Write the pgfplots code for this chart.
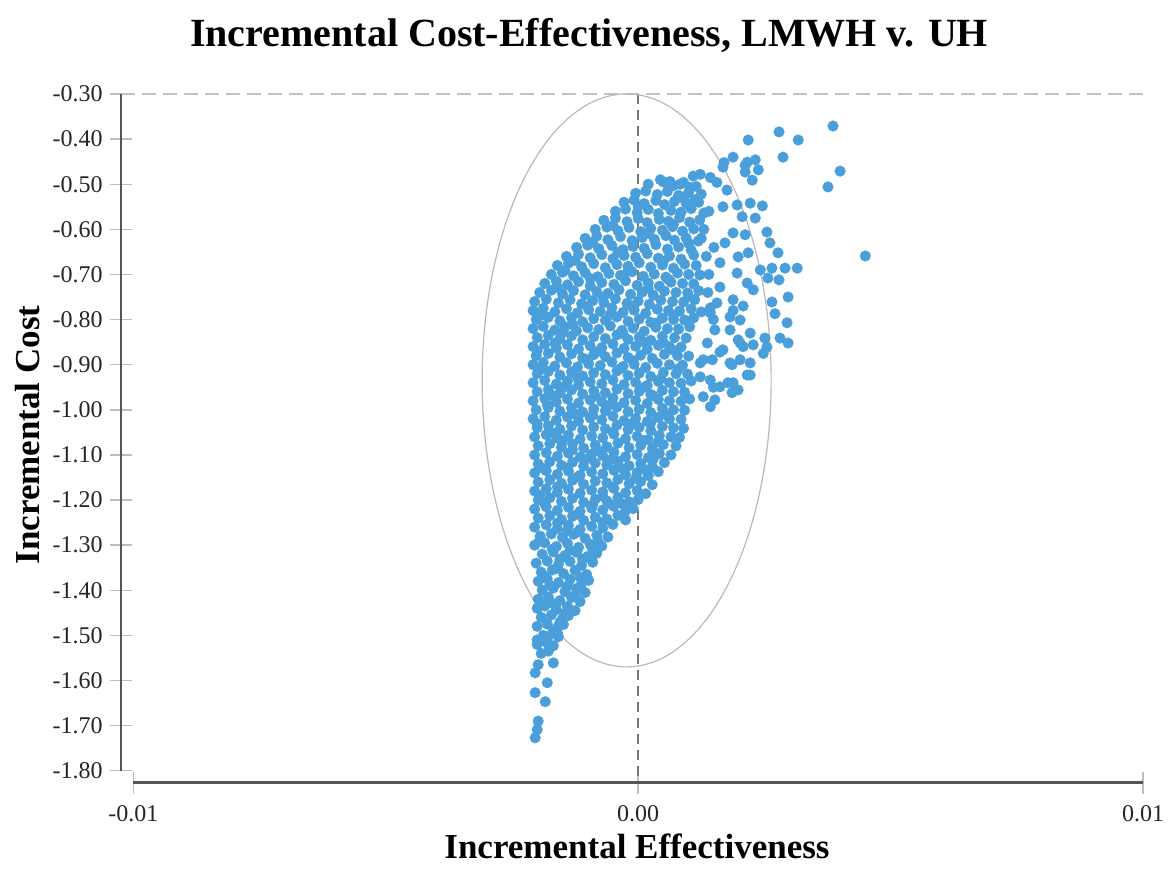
\documentclass[border=0pt]{standalone}
\usepackage{fontspec}
\setmainfont{Liberation Serif}
\usepackage{pgfplots}
\pgfplotsset{compat=1.18}
\usepackage{pgfplotstable}
\definecolor{ptblue}{RGB}{74,159,218}
\definecolor{spinecol}{RGB}{85,85,85}
\definecolor{tickgray}{RGB}{190,190,190}
\definecolor{ellgray}{RGB}{185,185,185}
\definecolor{dashdark}{RGB}{120,120,120}
\definecolor{dashlight}{RGB}{195,195,195}

\pgfplotstableread{
x y
0.44e-3 -0.490
0.63e-3 -0.494
0.83e-3 -0.500
1.03e-3 -0.507
1.09e-3 -0.482
1.23e-3 -0.478
1.43e-3 -0.485
1.56e-3 -0.496
1.68e-3 -0.462
1.88e-3 -0.440
2.12e-3 -0.473
1.76e-3 -0.513
1.70e-3 -0.452
2.12e-3 -0.458
2.32e-3 -0.446
2.38e-3 -0.468
2.26e-3 -0.491
2.18e-3 -0.402
2.79e-3 -0.384
3.17e-3 -0.402
3.86e-3 -0.371
2.87e-3 -0.440
4.00e-3 -0.471
3.76e-3 -0.506
4.50e-3 -0.659
2.16e-3 -0.451
1.68e-3 -0.550
1.96e-3 -0.546
2.22e-3 -0.542
2.46e-3 -0.548
2.06e-3 -0.572
2.32e-3 -0.575
2.55e-3 -0.606
2.61e-3 -0.630
2.77e-3 -0.652
1.88e-3 -0.608
2.12e-3 -0.612
1.72e-3 -0.630
1.98e-3 -0.661
2.18e-3 -0.652
1.62e-3 -0.674
1.96e-3 -0.697
2.42e-3 -0.690
2.65e-3 -0.686
2.91e-3 -0.686
3.15e-3 -0.686
2.16e-3 -0.719
2.28e-3 -0.734
2.65e-3 -0.761
2.97e-3 -0.750
1.88e-3 -0.756
1.62e-3 -0.728
1.43e-3 -0.774
2.57e-3 -0.708
2.79e-3 -0.712
1.56e-3 -0.763
1.49e-3 -0.800
1.82e-3 -0.794
2.02e-3 -0.801
2.22e-3 -0.830
2.51e-3 -0.841
2.81e-3 -0.841
2.97e-3 -0.852
2.55e-3 -0.861
2.28e-3 -0.856
2.02e-3 -0.852
1.82e-3 -0.823
1.62e-3 -0.872
2.22e-3 -0.896
2.02e-3 -0.889
1.86e-3 -0.900
2.16e-3 -0.923
1.88e-3 -0.940
1.43e-3 -0.934
1.23e-3 -0.896
1.37e-3 -0.852
1.43e-3 -0.785
1.88e-3 -0.780
2.08e-3 -0.770
2.71e-3 -0.787
2.95e-3 -0.807
1.52e-3 -0.823
1.98e-3 -0.845
2.48e-3 -0.875
1.68e-3 -0.867
2.08e-3 -0.860
1.29e-3 -0.889
1.47e-3 -0.889
1.82e-3 -0.896
2.22e-3 -0.923
1.23e-3 -0.927
1.49e-3 -0.950
1.62e-3 -0.949
1.86e-3 -0.962
1.98e-3 -0.956
1.29e-3 -0.971
1.52e-3 -0.978
1.43e-3 -0.993
1.78e-3 -0.940
1.30e-3 -0.600
1.50e-3 -0.640
1.40e-3 -0.700
1.35e-3 -0.660
1.38e-3 -0.740
1.20e-3 -0.540
1.40e-3 -0.560
1.25e-3 -0.620
-1.98e-3 -1.565
-1.68e-3 -1.561
-2.04e-3 -1.583
-1.80e-3 -1.605
-2.04e-3 -1.627
-1.84e-3 -1.647
-1.98e-3 -1.690
-2.00e-3 -1.709
-2.04e-3 -1.727
-1.74e-3 -1.525
-1.60e-3 -1.494
-2.00e-3 -1.510
0.20e-3 -0.500
0.50e-3 -0.495
0.70e-3 -0.503
0.90e-3 -0.496
1.15e-3 -0.505
-0.05e-3 -0.520
0.15e-3 -0.515
0.38e-3 -0.523
0.58e-3 -0.516
0.80e-3 -0.525
1.00e-3 -0.518
1.25e-3 -0.522
-0.28e-3 -0.540
-0.08e-3 -0.535
0.12e-3 -0.543
0.35e-3 -0.536
0.52e-3 -0.545
0.72e-3 -0.538
0.95e-3 -0.542
1.12e-3 -0.534
-0.45e-3 -0.560
-0.25e-3 -0.555
-0.02e-3 -0.563
0.20e-3 -0.556
0.40e-3 -0.565
0.65e-3 -0.558
0.85e-3 -0.562
1.05e-3 -0.554
1.30e-3 -0.564
-0.68e-3 -0.580
-0.45e-3 -0.575
-0.22e-3 -0.583
0.00e-3 -0.576
0.18e-3 -0.585
0.42e-3 -0.578
0.60e-3 -0.582
0.82e-3 -0.574
1.02e-3 -0.584
1.22e-3 -0.579
-0.85e-3 -0.600
-0.62e-3 -0.595
-0.40e-3 -0.603
-0.18e-3 -0.596
0.05e-3 -0.605
0.25e-3 -0.598
0.48e-3 -0.602
0.68e-3 -0.594
0.88e-3 -0.604
1.10e-3 -0.599
-1.05e-3 -0.620
-0.82e-3 -0.615
-0.60e-3 -0.623
-0.35e-3 -0.616
-0.12e-3 -0.625
0.08e-3 -0.618
0.32e-3 -0.622
0.55e-3 -0.614
0.72e-3 -0.624
0.95e-3 -0.619
1.19e-3 -0.626
-1.22e-3 -0.640
-1.00e-3 -0.635
-0.78e-3 -0.643
-0.52e-3 -0.636
-0.30e-3 -0.645
-0.10e-3 -0.638
0.12e-3 -0.642
0.35e-3 -0.634
0.58e-3 -0.644
0.80e-3 -0.639
1.05e-3 -0.646
-1.42e-3 -0.660
-1.18e-3 -0.655
-0.95e-3 -0.663
-0.72e-3 -0.656
-0.50e-3 -0.665
-0.28e-3 -0.658
-0.05e-3 -0.662
0.18e-3 -0.654
0.40e-3 -0.664
0.62e-3 -0.659
0.85e-3 -0.666
1.10e-3 -0.657
-1.60e-3 -0.680
-1.38e-3 -0.675
-1.12e-3 -0.683
-0.88e-3 -0.676
-0.65e-3 -0.685
-0.42e-3 -0.678
-0.20e-3 -0.682
0.02e-3 -0.674
0.25e-3 -0.684
0.48e-3 -0.679
0.70e-3 -0.686
0.92e-3 -0.677
1.15e-3 -0.680
-1.72e-3 -0.700
-1.50e-3 -0.695
-1.28e-3 -0.703
-1.05e-3 -0.696
-0.80e-3 -0.705
-0.58e-3 -0.698
-0.35e-3 -0.702
-0.12e-3 -0.694
0.10e-3 -0.704
0.32e-3 -0.699
0.55e-3 -0.706
0.78e-3 -0.697
1.00e-3 -0.700
1.22e-3 -0.701
-1.85e-3 -0.720
-1.62e-3 -0.715
-1.40e-3 -0.723
-1.18e-3 -0.716
-0.95e-3 -0.725
-0.72e-3 -0.718
-0.48e-3 -0.722
-0.25e-3 -0.714
-0.02e-3 -0.724
0.20e-3 -0.719
0.42e-3 -0.726
0.65e-3 -0.717
0.88e-3 -0.720
1.10e-3 -0.721
-1.95e-3 -0.740
-1.72e-3 -0.735
-1.50e-3 -0.743
-1.28e-3 -0.736
-1.05e-3 -0.745
-0.82e-3 -0.738
-0.60e-3 -0.742
-0.38e-3 -0.734
-0.15e-3 -0.744
0.08e-3 -0.739
0.30e-3 -0.746
0.52e-3 -0.737
0.75e-3 -0.740
0.98e-3 -0.741
1.20e-3 -0.736
-2.05e-3 -0.760
-1.82e-3 -0.755
-1.58e-3 -0.763
-1.35e-3 -0.756
-1.12e-3 -0.765
-0.90e-3 -0.758
-0.68e-3 -0.762
-0.45e-3 -0.754
-0.22e-3 -0.764
0.00e-3 -0.759
0.22e-3 -0.766
0.45e-3 -0.757
0.68e-3 -0.760
0.90e-3 -0.761
1.12e-3 -0.756
-2.08e-3 -0.780
-1.88e-3 -0.775
-1.65e-3 -0.783
-1.42e-3 -0.776
-1.20e-3 -0.785
-0.98e-3 -0.778
-0.75e-3 -0.782
-0.52e-3 -0.774
-0.30e-3 -0.784
-0.08e-3 -0.779
0.15e-3 -0.786
0.38e-3 -0.777
0.60e-3 -0.780
0.82e-3 -0.781
1.05e-3 -0.776
1.25e-3 -0.783
-2.02e-3 -0.800
-1.78e-3 -0.795
-1.55e-3 -0.803
-1.32e-3 -0.796
-1.10e-3 -0.805
-0.88e-3 -0.798
-0.65e-3 -0.802
-0.42e-3 -0.794
-0.20e-3 -0.804
0.02e-3 -0.799
0.25e-3 -0.806
0.48e-3 -0.797
0.70e-3 -0.800
0.92e-3 -0.801
1.10e-3 -0.796
-2.08e-3 -0.820
-1.88e-3 -0.815
-1.65e-3 -0.823
-1.45e-3 -0.816
-1.22e-3 -0.825
-1.00e-3 -0.818
-0.78e-3 -0.822
-0.55e-3 -0.814
-0.32e-3 -0.824
-0.10e-3 -0.819
0.12e-3 -0.826
0.35e-3 -0.817
0.58e-3 -0.820
0.80e-3 -0.821
1.02e-3 -0.816
-2.00e-3 -0.840
-1.78e-3 -0.835
-1.55e-3 -0.843
-1.32e-3 -0.836
-1.10e-3 -0.845
-0.88e-3 -0.838
-0.65e-3 -0.842
-0.42e-3 -0.834
-0.20e-3 -0.844
0.02e-3 -0.839
0.25e-3 -0.846
0.48e-3 -0.837
0.72e-3 -0.840
0.95e-3 -0.841
-2.08e-3 -0.860
-1.85e-3 -0.855
-1.62e-3 -0.863
-1.40e-3 -0.856
-1.18e-3 -0.865
-0.95e-3 -0.858
-0.72e-3 -0.862
-0.50e-3 -0.854
-0.28e-3 -0.864
-0.05e-3 -0.859
0.18e-3 -0.866
0.40e-3 -0.857
0.62e-3 -0.860
0.85e-3 -0.861
-2.02e-3 -0.880
-1.78e-3 -0.875
-1.55e-3 -0.883
-1.32e-3 -0.876
-1.10e-3 -0.885
-0.88e-3 -0.878
-0.65e-3 -0.882
-0.42e-3 -0.874
-0.20e-3 -0.884
0.05e-3 -0.879
0.28e-3 -0.886
0.52e-3 -0.877
0.78e-3 -0.880
1.00e-3 -0.881
-2.08e-3 -0.900
-1.88e-3 -0.895
-1.65e-3 -0.903
-1.42e-3 -0.896
-1.20e-3 -0.905
-0.98e-3 -0.898
-0.75e-3 -0.902
-0.52e-3 -0.894
-0.30e-3 -0.904
-0.08e-3 -0.899
0.15e-3 -0.906
0.38e-3 -0.897
0.62e-3 -0.900
0.88e-3 -0.901
-2.00e-3 -0.920
-1.78e-3 -0.915
-1.55e-3 -0.923
-1.32e-3 -0.916
-1.10e-3 -0.925
-0.88e-3 -0.918
-0.65e-3 -0.922
-0.42e-3 -0.914
-0.20e-3 -0.924
0.02e-3 -0.919
0.25e-3 -0.926
0.50e-3 -0.917
0.75e-3 -0.920
0.98e-3 -0.921
-2.08e-3 -0.940
-1.85e-3 -0.935
-1.62e-3 -0.943
-1.40e-3 -0.936
-1.18e-3 -0.945
-0.95e-3 -0.938
-0.72e-3 -0.942
-0.50e-3 -0.934
-0.28e-3 -0.944
-0.05e-3 -0.939
0.18e-3 -0.946
0.40e-3 -0.937
0.62e-3 -0.940
0.85e-3 -0.941
1.05e-3 -0.936
-2.00e-3 -0.960
-1.78e-3 -0.955
-1.55e-3 -0.963
-1.32e-3 -0.956
-1.10e-3 -0.965
-0.88e-3 -0.958
-0.65e-3 -0.962
-0.42e-3 -0.954
-0.20e-3 -0.964
0.02e-3 -0.959
0.25e-3 -0.966
0.48e-3 -0.957
0.70e-3 -0.960
0.92e-3 -0.961
-2.08e-3 -0.980
-1.85e-3 -0.975
-1.62e-3 -0.983
-1.40e-3 -0.976
-1.18e-3 -0.985
-0.95e-3 -0.978
-0.72e-3 -0.982
-0.50e-3 -0.974
-0.28e-3 -0.984
-0.05e-3 -0.979
0.18e-3 -0.986
0.40e-3 -0.977
0.62e-3 -0.980
0.85e-3 -0.981
1.02e-3 -0.976
-2.02e-3 -1.000
-1.78e-3 -0.995
-1.55e-3 -1.003
-1.32e-3 -0.996
-1.10e-3 -1.005
-0.88e-3 -0.998
-0.65e-3 -1.002
-0.42e-3 -0.994
-0.20e-3 -1.004
0.02e-3 -0.999
0.25e-3 -1.006
0.48e-3 -0.997
0.70e-3 -1.000
0.92e-3 -1.001
-2.08e-3 -1.020
-1.85e-3 -1.015
-1.62e-3 -1.023
-1.40e-3 -1.016
-1.18e-3 -1.025
-0.95e-3 -1.018
-0.72e-3 -1.022
-0.50e-3 -1.014
-0.28e-3 -1.024
-0.05e-3 -1.019
0.18e-3 -1.026
0.40e-3 -1.017
0.62e-3 -1.020
0.85e-3 -1.021
-2.00e-3 -1.040
-1.78e-3 -1.035
-1.55e-3 -1.043
-1.32e-3 -1.036
-1.10e-3 -1.045
-0.88e-3 -1.038
-0.65e-3 -1.042
-0.42e-3 -1.034
-0.20e-3 -1.044
0.02e-3 -1.039
0.25e-3 -1.046
0.48e-3 -1.037
0.70e-3 -1.040
0.90e-3 -1.041
-2.05e-3 -1.060
-1.82e-3 -1.055
-1.60e-3 -1.063
-1.38e-3 -1.056
-1.15e-3 -1.065
-0.92e-3 -1.058
-0.70e-3 -1.062
-0.48e-3 -1.054
-0.25e-3 -1.064
-0.02e-3 -1.059
0.20e-3 -1.066
0.42e-3 -1.057
0.65e-3 -1.060
0.82e-3 -1.061
-1.98e-3 -1.080
-1.75e-3 -1.075
-1.52e-3 -1.083
-1.30e-3 -1.076
-1.08e-3 -1.085
-0.85e-3 -1.078
-0.62e-3 -1.082
-0.40e-3 -1.074
-0.18e-3 -1.084
0.05e-3 -1.079
0.28e-3 -1.086
0.50e-3 -1.077
0.75e-3 -1.080
-2.05e-3 -1.100
-1.82e-3 -1.095
-1.60e-3 -1.103
-1.38e-3 -1.096
-1.15e-3 -1.105
-0.92e-3 -1.098
-0.70e-3 -1.102
-0.48e-3 -1.094
-0.25e-3 -1.104
-0.02e-3 -1.099
0.20e-3 -1.106
0.42e-3 -1.097
0.65e-3 -1.100
-1.98e-3 -1.120
-1.75e-3 -1.115
-1.52e-3 -1.123
-1.30e-3 -1.116
-1.08e-3 -1.125
-0.85e-3 -1.118
-0.62e-3 -1.122
-0.40e-3 -1.114
-0.18e-3 -1.124
0.05e-3 -1.119
0.28e-3 -1.126
0.52e-3 -1.117
-2.05e-3 -1.140
-1.82e-3 -1.135
-1.60e-3 -1.143
-1.38e-3 -1.136
-1.15e-3 -1.145
-0.92e-3 -1.138
-0.70e-3 -1.142
-0.48e-3 -1.134
-0.25e-3 -1.144
-0.02e-3 -1.139
0.20e-3 -1.146
0.40e-3 -1.137
-1.98e-3 -1.160
-1.75e-3 -1.155
-1.52e-3 -1.163
-1.30e-3 -1.156
-1.08e-3 -1.165
-0.85e-3 -1.158
-0.62e-3 -1.162
-0.40e-3 -1.154
-0.18e-3 -1.164
0.05e-3 -1.159
0.28e-3 -1.166
-2.05e-3 -1.180
-1.82e-3 -1.175
-1.60e-3 -1.183
-1.38e-3 -1.176
-1.15e-3 -1.185
-0.92e-3 -1.178
-0.70e-3 -1.182
-0.48e-3 -1.174
-0.25e-3 -1.184
-0.02e-3 -1.179
0.15e-3 -1.186
-1.98e-3 -1.200
-1.75e-3 -1.195
-1.52e-3 -1.203
-1.30e-3 -1.196
-1.08e-3 -1.205
-0.85e-3 -1.198
-0.62e-3 -1.202
-0.40e-3 -1.194
-0.18e-3 -1.204
0.00e-3 -1.199
-2.05e-3 -1.220
-1.82e-3 -1.215
-1.60e-3 -1.223
-1.38e-3 -1.216
-1.15e-3 -1.225
-0.92e-3 -1.218
-0.70e-3 -1.222
-0.48e-3 -1.214
-0.25e-3 -1.224
-0.10e-3 -1.219
-1.98e-3 -1.240
-1.75e-3 -1.235
-1.52e-3 -1.243
-1.30e-3 -1.236
-1.08e-3 -1.245
-0.85e-3 -1.238
-0.62e-3 -1.242
-0.40e-3 -1.234
-0.25e-3 -1.244
-2.05e-3 -1.260
-1.82e-3 -1.255
-1.60e-3 -1.263
-1.38e-3 -1.256
-1.15e-3 -1.265
-0.92e-3 -1.258
-0.70e-3 -1.262
-0.50e-3 -1.254
-1.94e-3 -1.280
-1.72e-3 -1.275
-1.50e-3 -1.283
-1.28e-3 -1.276
-1.05e-3 -1.285
-0.82e-3 -1.278
-0.60e-3 -1.282
-2.05e-3 -1.300
-1.85e-3 -1.295
-1.62e-3 -1.303
-1.40e-3 -1.296
-1.18e-3 -1.305
-0.95e-3 -1.298
-0.72e-3 -1.302
-1.90e-3 -1.320
-1.68e-3 -1.315
-1.45e-3 -1.323
-1.22e-3 -1.316
-1.00e-3 -1.325
-0.82e-3 -1.318
-2.02e-3 -1.340
-1.80e-3 -1.335
-1.58e-3 -1.343
-1.35e-3 -1.336
-1.12e-3 -1.345
-0.90e-3 -1.338
-1.92e-3 -1.360
-1.70e-3 -1.355
-1.48e-3 -1.363
-1.25e-3 -1.356
-1.02e-3 -1.365
-1.98e-3 -1.380
-1.80e-3 -1.375
-1.58e-3 -1.383
-1.35e-3 -1.376
-1.12e-3 -1.385
-0.98e-3 -1.378
-1.90e-3 -1.400
-1.68e-3 -1.395
-1.45e-3 -1.403
-1.22e-3 -1.396
-1.05e-3 -1.405
-1.98e-3 -1.420
-1.78e-3 -1.415
-1.55e-3 -1.423
-1.32e-3 -1.416
-1.15e-3 -1.425
-2.00e-3 -1.440
-1.85e-3 -1.435
-1.62e-3 -1.443
-1.40e-3 -1.436
-1.25e-3 -1.445
-1.92e-3 -1.460
-1.72e-3 -1.455
-1.50e-3 -1.463
-1.38e-3 -1.456
-2.00e-3 -1.480
-1.80e-3 -1.475
-1.60e-3 -1.483
-1.48e-3 -1.476
-1.88e-3 -1.500
-1.70e-3 -1.495
-1.58e-3 -1.503
-2.00e-3 -1.520
-1.82e-3 -1.515
-1.68e-3 -1.523
-1.92e-3 -1.540
-1.78e-3 -1.535
-1.90e-3 -0.790
-1.30e-3 -0.811
-0.55e-3 -0.789
0.35e-3 -0.808
-1.65e-3 -0.852
-0.80e-3 -0.871
0.10e-3 -0.849
0.70e-3 -0.868
-1.95e-3 -0.912
-1.20e-3 -0.929
-0.35e-3 -0.909
0.45e-3 -0.931
-1.70e-3 -0.968
-0.60e-3 -0.991
0.30e-3 -0.969
-2.00e-3 -1.031
-1.25e-3 -1.009
-0.15e-3 -1.032
0.55e-3 -1.011
-1.50e-3 -1.069
-0.80e-3 -1.091
0.10e-3 -1.068
-1.90e-3 -1.129
-1.00e-3 -1.108
-0.30e-3 -1.131
0.30e-3 -1.109
-1.60e-3 -1.171
-0.70e-3 -1.192
-0.05e-3 -1.152
-1.85e-3 -1.208
-1.20e-3 -1.231
-0.55e-3 -1.209
-1.40e-3 -1.268
-0.80e-3 -1.291
-1.70e-3 -1.309
-1.10e-3 -1.331
-1.85e-3 -1.369
-1.40e-3 -1.391
-1.70e-3 -1.429
-1.55e-3 -1.471
-1.80e-3 -1.508
-1.45e-3 -0.691
-0.95e-3 -0.709
-0.20e-3 -0.692
0.60e-3 -0.711
-1.60e-3 -0.729
-0.70e-3 -0.751
0.20e-3 -0.731
1.00e-3 -0.749
-1.25e-3 -0.669
-0.40e-3 -0.651
0.50e-3 -0.671
-0.90e-3 -0.629
0.20e-3 -0.609
1.00e-3 -0.631
-0.50e-3 -0.591
0.70e-3 -0.589
0.00e-3 -0.549
0.90e-3 -0.531
-1.00e-3 -0.771
-0.15e-3 -0.769
0.70e-3 -0.791
-1.50e-3 -0.829
-0.30e-3 -0.831
0.50e-3 -0.851
-2.00e-3 -0.869
-1.00e-3 -0.889
-0.10e-3 -0.891
0.80e-3 -0.909
-1.50e-3 -0.951
-0.85e-3 -0.969
0.10e-3 -0.951
-1.80e-3 -0.989
-0.90e-3 -1.011
0.25e-3 -1.029
-1.70e-3 -1.051
-0.50e-3 -1.049
0.40e-3 -1.071
-1.30e-3 -1.089
-0.55e-3 -1.111
-1.40e-3 -1.129
0.10e-3 -1.131
-1.20e-3 -1.149
-0.50e-3 -1.171
-1.95e-3 -1.189
-0.90e-3 -1.211
-0.30e-3 -1.209
-1.60e-3 -1.251
-0.70e-3 -1.249
-1.20e-3 -1.271
-1.95e-3 -1.289
-1.35e-3 -1.311
-0.90e-3 -1.309
-1.55e-3 -1.331
-1.60e-3 -1.351
-1.15e-3 -1.371
-1.75e-3 -1.389
-1.25e-3 -1.411
-1.90e-3 -1.431
-1.45e-3 -1.451
-1.65e-3 -1.489
}\cloud

\begin{document}
\begin{tikzpicture}
\begin{axis}[
  name=ax,
  scale only axis,
  width=511pt, height=344.25pt,
  xmin=-0.010244, xmax=0.01,
  ymin=-1.8261, ymax=-0.30,
  axis lines*=left,
  axis line style={draw=none},
  clip=false,
  scaled x ticks=false, scaled y ticks=false,
  xtick={-0.01,0,0.01},
  xticklabels={-0.01,0.00,0.01},
  ytick={-1.80,-1.70,-1.60,-1.50,-1.40,-1.30,-1.20,-1.10,-1.00,-0.90,-0.80,-0.70,-0.60,-0.50,-0.40,-0.30},
  yticklabels={-1.80,-1.70,-1.60,-1.50,-1.40,-1.30,-1.20,-1.10,-1.00,-0.90,-0.80,-0.70,-0.60,-0.50,-0.40,-0.30},
  tick align=center,
  major tick length=11pt,
  every tick/.style={tickgray, line width=0.7pt},
  ticklabel style={font=\fontsize{12}{14}\selectfont, text=black!85},
  xticklabel style={anchor=base, inner sep=0pt, yshift=-13.75pt},
  yticklabel style={anchor=east, inner sep=0pt, xshift=-3.5pt},
  /pgf/number format/assume math mode=true,
]
\draw[dashlight, line width=0.8pt, dash pattern=on 7pt off 3.5pt] (axis cs:-0.010244,-0.30) -- (axis cs:0.01,-0.30);
\draw[dashdark, line width=0.8pt, dash pattern=on 5pt off 3pt] (axis cs:0,-0.30) -- (axis cs:0,-1.8261);
\draw[ellgray, line width=0.6pt] (axis cs:-0.000228,-0.9348) ellipse [x radius=72.25pt, y radius=143.25pt];
\addplot[ptblue, only marks, mark=*, mark size=2.7pt, mark options={fill=ptblue, draw=ptblue, line width=0.1pt}] table[x=x, y=y] {\cloud};
\draw[spinecol, line width=1.3pt] (axis cs:-0.010244,-1.80) -- (axis cs:-0.010244,-0.30);
\draw[spinecol, line width=1.3pt] (axis cs:-0.01,-1.8261) -- (axis cs:0.01,-1.8261);
\node[anchor=base, font=\bfseries\fontsize{20}{24}\selectfont] at (rel axis cs:0.458,1.0683) {Incremental Cost-Effectiveness, LMWH v. UH};
\node[anchor=base, font=\bfseries\fontsize{17.5}{21}\selectfont] at (rel axis cs:0.5049,-0.1111) {Incremental Effectiveness};
\node[anchor=base, rotate=90, font=\bfseries\fontsize{17.5}{21}\selectfont] at (rel axis cs:-0.0793,0.5047) {Incremental Cost};
\end{axis}
\pgfresetboundingbox
\path[use as bounding box] ([shift={(-60.5pt,-43.75pt)}]ax.south west) rectangle ([shift={(13pt,47pt)}]ax.north east);
\end{tikzpicture}
\end{document}
